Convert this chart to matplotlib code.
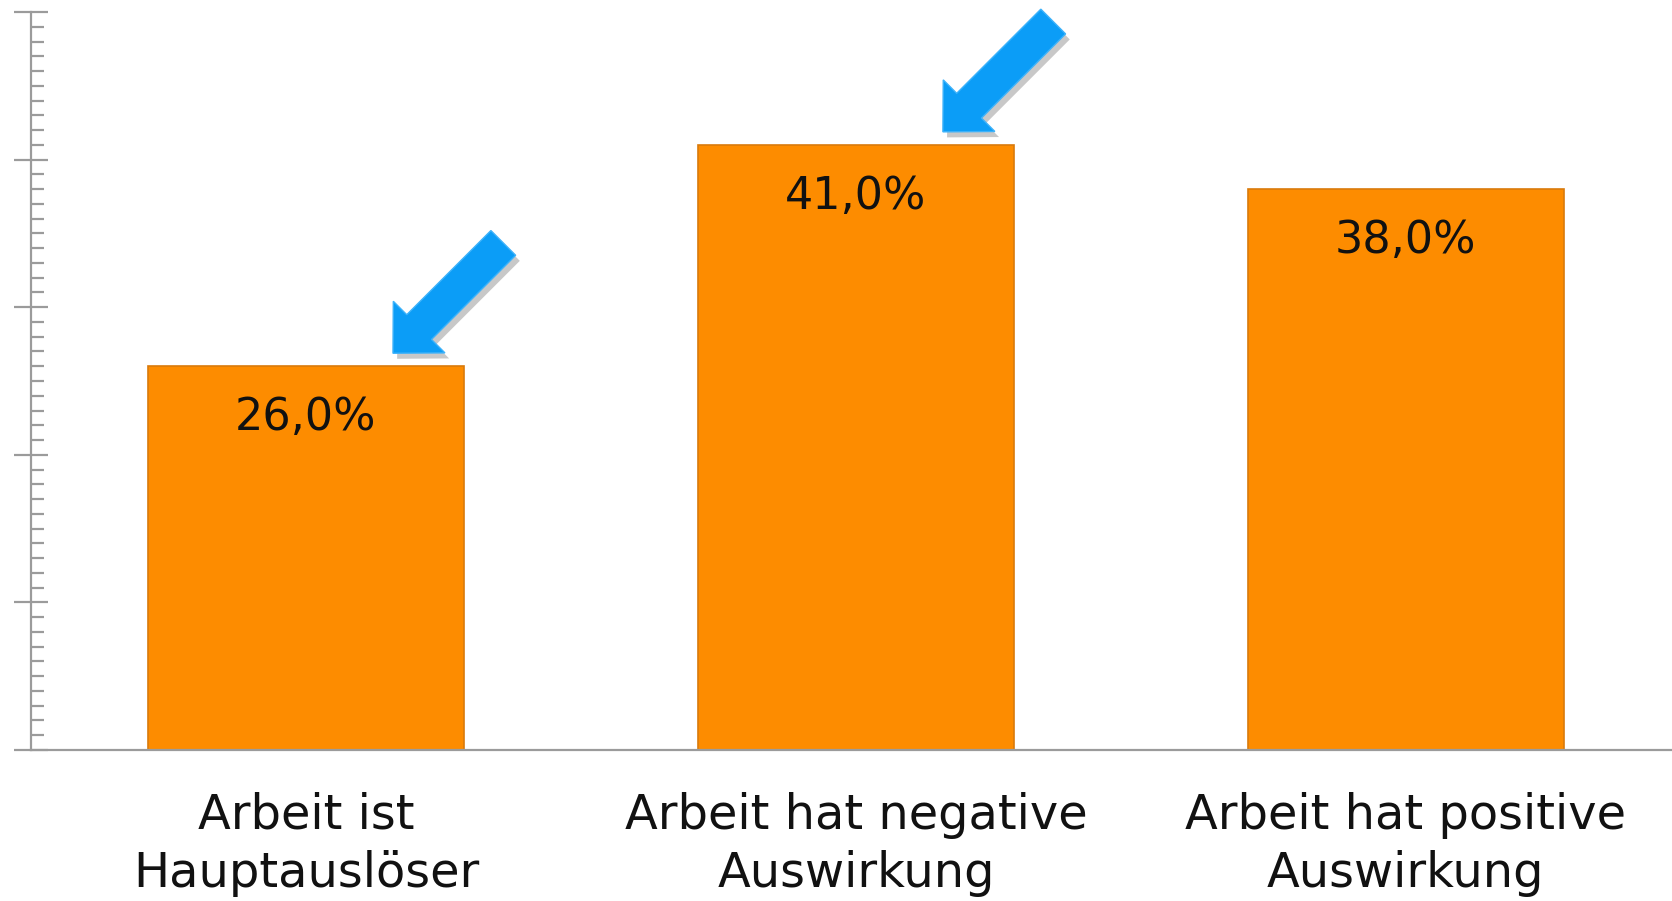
import numpy as np
import matplotlib
matplotlib.use("Agg")
import matplotlib.pyplot as plt
from matplotlib.patches import Polygon
from matplotlib.transforms import ScaledTranslation
from matplotlib.ticker import MultipleLocator
import matplotlib.patheffects as pe

categories = ["Arbeit ist\nHauptauslöser", "Arbeit hat negative\nAuswirkung", "Arbeit hat positive\nAuswirkung"]
values = [26.0, 41.0, 38.0]
value_labels = ["26,0%", "41,0%", "38,0%"]
highlighted = [0, 1]

W, H = 1672, 901
fig = plt.figure(figsize=(W / 100, H / 100), dpi=100)
ax = fig.add_axes([31 / W, 151 / H, (W - 31) / W, 738 / H])

x = np.arange(len(categories))
bars = ax.bar(x, values, width=0.575, color="#FD8C00", edgecolor="#D97A0C", linewidth=1.2, zorder=2)

ax.set_xlim(-0.5, 2.484)
ax.set_ylim(0, 50)

grey = "#9B9B9B"
for s in ["top", "right"]:
    ax.spines[s].set_visible(False)
ax.spines["left"].set_color(grey)
ax.spines["left"].set_linewidth(1.6)
ax.spines["bottom"].set_color(grey)
ax.spines["bottom"].set_linewidth(1.6)

ax.yaxis.set_major_locator(MultipleLocator(10))
ax.yaxis.set_minor_locator(MultipleLocator(1))
ax.tick_params(axis="y", which="major", direction="inout", length=24, width=1.6, color=grey, labelleft=False)
ax.tick_params(axis="y", which="minor", direction="in", length=9, width=1.6, color=grey)

font = "DejaVu Sans"
ax.set_xticks(x)
ax.set_xticklabels(categories, fontsize=34.5, family=font, color="#111111", linespacing=1.3)
ax.tick_params(axis="x", length=0, pad=30)

for i, (v, lab) in enumerate(zip(values, value_labels)):
    ax.annotate(lab, xy=(i, v), xytext=(0, -37), textcoords="offset points",
                ha="center", va="center", fontsize=32, family=font, color="#111111", zorder=3)

# block arrows (pixels relative to tip)
hl, hw, sw, L = 37, 36.5, 17.5, 156
u = np.array([1, 1]) / np.sqrt(2)
vv = np.array([-1, 1]) / np.sqrt(2)
pts = np.array([
    [0, 0],
    hl * u + hw * vv,
    hl * u + sw * vv,
    L * u + sw * vv,
    L * u - sw * vv,
    hl * u - sw * vv,
    hl * u - hw * vv,
]) + np.array([87, 13])
pts = pts / 100.0

for i in highlighted:
    tr = fig.dpi_scale_trans + ScaledTranslation(x[i], values[i], ax.transData)
    poly = Polygon(pts, closed=True, transform=tr, facecolor="#0B9DF7", edgecolor="#3DB2FA",
                   linewidth=1.0, zorder=4, clip_on=False,
                   path_effects=[pe.SimplePatchShadow(offset=(3, -4), shadow_rgbFace="#777777", alpha=0.4), pe.Normal()])
    ax.add_patch(poly)

fig.savefig("out.png", dpi=100)
